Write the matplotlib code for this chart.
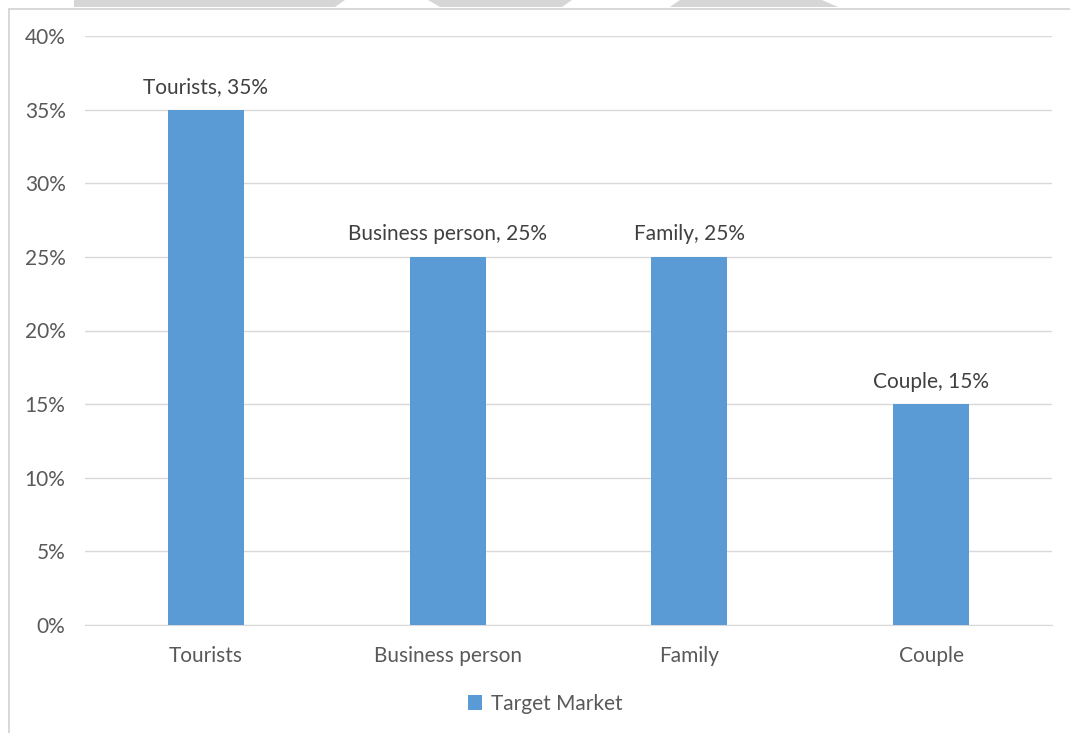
"""Target market share bar chart."""

import matplotlib.pyplot as plt
from matplotlib.patches import Polygon, Rectangle
from matplotlib.ticker import PercentFormatter

categories = ["Tourists", "Business person", "Family", "Couple"]
shares = [35, 25, 25, 15]
series_name = "Target Market"

BAR_COLOR = "#5b9bd5"
TEXT_COLOR = "#595959"
GRID_COLOR = "#d9d9d9"

plt.rcParams["font.family"] = ["Lato", "DejaVu Sans"]

fig = plt.figure(figsize=(10.7, 7.33), dpi=100)
W, H = 1070, 733


def px(x, y):
    return (x / W, 1 - y / H)


# screenshot decoration: grey strips on top and the frame edges
for pts in [
    [(74, 0), (345, 0), (335, 7), (74, 7)],
    [(428, 0), (572, 0), (562, 7), (440, 7)],
    [(680, 0), (822, 0), (838, 7), (670, 7)],
]:
    fig.patches.append(Polygon([px(*p) for p in pts], closed=True,
                               transform=fig.transFigure, facecolor="#d6d6d6",
                               edgecolor="none"))
fig.patches.append(Rectangle(px(8, 10), (W - 8) / W, 2 / H, transform=fig.transFigure,
                             facecolor="#d9d9d9", edgecolor="none"))
fig.patches.append(Rectangle(px(8, H), 2 / W, (H - 10) / H, transform=fig.transFigure,
                             facecolor="#d9d9d9", edgecolor="none"))

ax = fig.add_axes([85 / W, 1 - 625 / H, (1052 - 85) / W, (625 - 36) / H])

x = range(len(categories))
bars = ax.bar(x, shares, width=0.315, color=BAR_COLOR, label=series_name, zorder=3)

for bar, cat, val in zip(bars, categories, shares):
    ax.annotate(f"{cat}, {val}%", (bar.get_x() + bar.get_width() / 2, val),
                xytext=(0, 9), textcoords="offset points", ha="center", va="bottom",
                fontsize=15, color="#404040")

ax.set_xlim(-0.5, len(categories) - 0.5)
ax.set_ylim(0, 40)
ax.set_yticks(range(0, 41, 5))
ax.yaxis.set_major_formatter(PercentFormatter(decimals=0))
ax.set_xticks(list(x))
ax.set_xticklabels(categories)
ax.tick_params(axis="both", length=0, labelsize=15, labelcolor=TEXT_COLOR)
ax.tick_params(axis="x", pad=15)
ax.tick_params(axis="y", pad=14)
ax.grid(axis="y", color=GRID_COLOR, linewidth=1, zorder=0)
for side in ["top", "right", "left"]:
    ax.spines[side].set_visible(False)
ax.spines["bottom"].set_color(GRID_COLOR)

fig.legend(handles=[bars], labels=[series_name], loc="center", bbox_to_anchor=px(545, 704),
           frameon=False, fontsize=15, labelcolor=TEXT_COLOR, handlelength=0.7,
           handleheight=0.7, handletextpad=0.4)

fig.savefig("out.png", dpi=100, facecolor="white")
